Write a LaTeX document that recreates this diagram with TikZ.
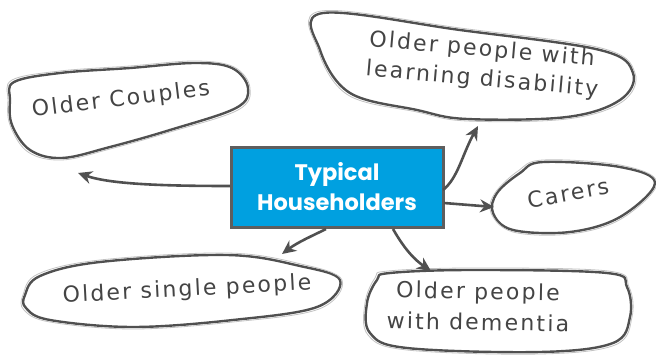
\documentclass[tikz,border=0pt]{standalone}
\usepackage{fontspec}
\setmainfont{DejaVu Sans}
\newfontfamily\boxfont{Poppins}
\newfontfamily\handfont[LetterSpace=10]{DejaVu Sans}
\usetikzlibrary{arrows.meta}
\definecolor{ink}{HTML}{505050}
\definecolor{boxblue}{HTML}{00A0E0}
\definecolor{boxedge}{HTML}{5E5E5E}
\tikzset{
  blob/.style={draw=ink, line width=2.4pt, line join=round},
  blobghost/.style={draw=ink!35, line width=0.8pt},
  hand/.style={text=ink!85!black, font=\handfont\fontsize{22}{30}\selectfont, inner sep=0pt},
  link/.style={draw=ink, line width=2.6pt, -{Stealth[length=14pt,width=13pt]}},
  central/.style={draw=boxedge, fill=boxblue, line width=3pt, minimum width=212pt, minimum height=80pt,
    text=white, align=center, font=\boxfont\bfseries\fontsize{22.5}{30}\selectfont}
}
\begin{document}
\begin{tikzpicture}[x=1pt,y=-1pt]
\useasboundingbox (0,0) rectangle (656,356);

% blobs
\draw[blob] plot[smooth cycle, tension=0.6] coordinates {(14,82) (60,73) (130,68) (195,63) (232,68) (248,88) (236,108) (170,130) (110,147) (62,158) (30,150) (12,125) (10,100)};
\draw[blobghost] plot[smooth cycle, tension=0.6] coordinates {(12,80) (60,71) (130,66) (195,61) (234,67) (250,88) (238,110) (170,132) (110,149) (62,160) (28,152) (10,125) (8,100)};

\draw[blob] plot[smooth cycle, tension=0.6] coordinates {(323,13) (460,30) (600,50) (633,73) (620,100) (567,117) (467,119) (417,110) (350,93) (320,50)};
\draw[blobghost] plot[smooth cycle, tension=0.6] coordinates {(321,11) (460,28) (601,48) (635,73) (622,102) (567,119) (467,121) (417,112) (348,95) (318,50)};

\draw[blob] plot[smooth cycle, tension=0.6] coordinates {(543,162) (620,167) (655,183) (620,217) (570,232) (513,230) (493,213) (497,193) (520,173)};
\draw[blobghost] plot[smooth cycle, tension=0.6] coordinates {(543,160) (620,165) (657,183) (621,219) (570,234) (513,232) (491,213) (495,193) (518,171)};

\draw[blob] plot[smooth cycle, tension=0.6] coordinates {(40,276) (100,262) (227,255) (300,266) (340,280) (317,307) (233,320) (133,327) (50,320) (26,308) (25,295)};
\draw[blobghost] plot[smooth cycle, tension=0.6] coordinates {(38,274) (100,260) (227,253) (301,264) (342,280) (319,309) (233,322) (133,329) (50,322) (24,310) (23,295)};

\draw[blob] plot[smooth cycle, tension=0.6] coordinates {(390,273) (473,270) (607,273) (627,287) (630,317) (613,343) (540,352) (407,348) (370,333) (367,303) (377,280)};
\draw[blobghost] plot[smooth cycle, tension=0.6] coordinates {(388,271) (473,268) (608,271) (629,287) (632,317) (615,345) (540,354) (407,350) (368,335) (365,303) (375,278)};

% texts
\node[hand, rotate=7] (couples) at (121,100) {Older Couples};
\node[hand, rotate=-5] (learningA) at (482,50) {Older people with};
\node[hand, rotate=-5] (learningB) at (482,80) {learning disability};
\node[hand, rotate=10] (carers) at (568,193) {Carers};
\node[hand, rotate=3] (single) at (187,290) {Older single people};
\node[hand, rotate=-1] (dementiaA) at (478,293) {Older people};
\node[hand, rotate=-1] (dementiaB) at (478,322) {with dementia};

% central box
\node[central] (hub) at (337,187) {Typical\\Householders};

% arrow end points
\coordinate (e1) at (78,173);
\coordinate (e2) at (478,126);
\coordinate (e3) at (494,207);
\coordinate (e4) at (282,254);
\coordinate (e5) at (431,271);
\coordinate (s1) at (230,186);
\coordinate (s2) at (443,190);
\coordinate (s3) at (444,203);
\coordinate (s4) at (326,229);
\coordinate (s5) at (393,229);

\draw[link] (s1) .. controls (160,186) and (110,184) .. (e1);
\draw[link] (s2) .. controls (458,178) and (462,155) .. (e2);
\draw[link] (s3) -- (e3);
\draw[link] (s4) .. controls (312,236) and (298,242) .. (e4);
\draw[link] (s5) .. controls (405,250) and (415,260) .. (e5);
\end{tikzpicture}
\end{document}
